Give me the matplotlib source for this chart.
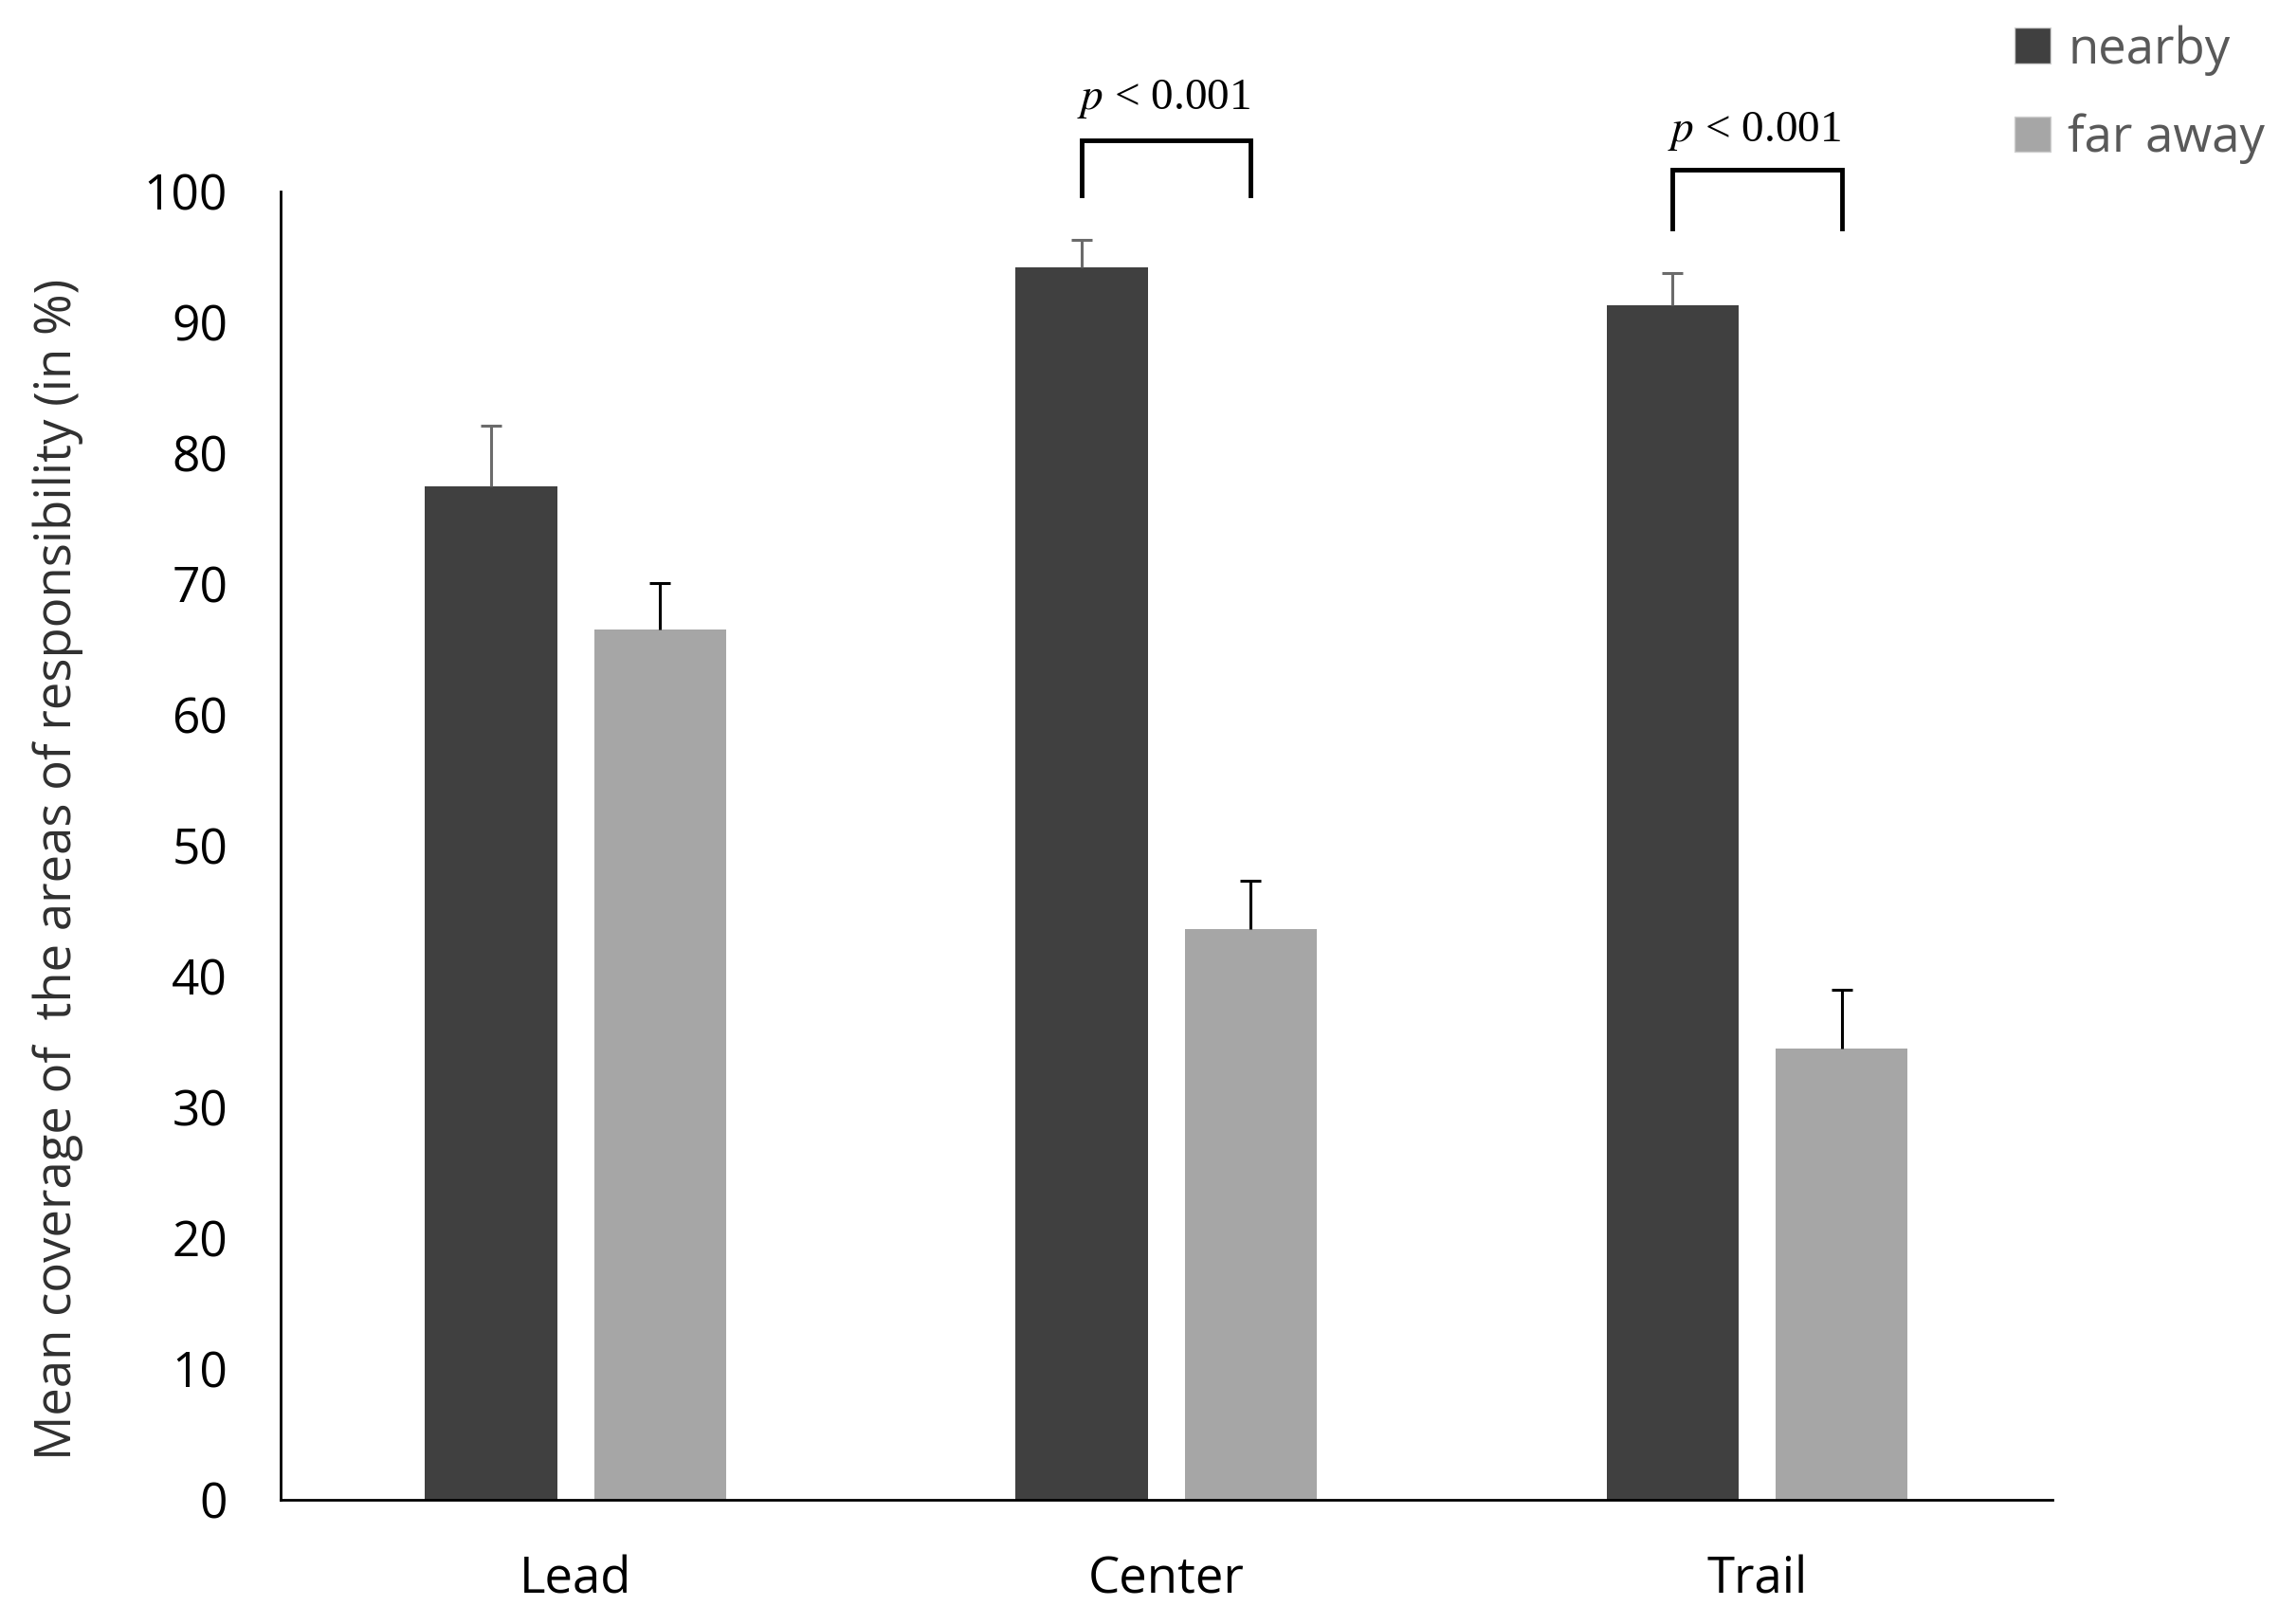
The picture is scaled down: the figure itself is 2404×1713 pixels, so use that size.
import matplotlib.pyplot as plt
import numpy as np
from matplotlib.patches import Patch

plt.rcParams['font.family'] = ['Open Sans', 'DejaVu Sans']
plt.rcParams['mathtext.fontset'] = 'stix'

groups = ['Lead', 'Center', 'Trail']
series = ['nearby', 'far away']
nearby = [77.5, 94.2, 91.3]
nearby_err = [4.6, 2.1, 2.5]
far = [66.5, 43.6, 34.5]
far_err = [3.6, 3.7, 4.5]
colors = ['#404040', '#a6a6a6']
err_colors = ['#6b6b6b', '#000000']

# significance brackets: group index, bracket top, leg bottom, text y
sig_groups = [1, 2]
sig_top = [103.9, 101.7]
sig_bottom = [99.7, 97.2]
sig_text_y = [107.1, 104.6]
sig_label = r'$p$ < 0.001'

fig = plt.figure(figsize=(24.04, 17.13), dpi=100)
ax = fig.add_axes([0.123, 0.0765, 0.7776, 0.8055])

x = np.arange(len(groups))
w = 0.224
off = 0.143
for i, (vals, errs) in enumerate([(nearby, nearby_err), (far, far_err)]):
    pos = x - off if i == 0 else x + off
    ax.bar(pos, vals, w, color=colors[i], label=series[i], zorder=2)
    eb = ax.errorbar(pos, vals, yerr=[np.zeros(len(errs)), errs], fmt='none',
                     ecolor=err_colors[i], elinewidth=2.2, capsize=8, capthick=2.2, zorder=3)
    # only the upper cap
    eb[1][0].set_visible(False)

for g, top, bot, ty in zip(sig_groups, sig_top, sig_bottom, sig_text_y):
    x0, x1 = g - off, g + off
    ax.plot([x0, x0, x1, x1], [bot, top, top, bot], color='black', lw=3.5,
            clip_on=False, solid_joinstyle='miter')
    ax.text(g - 0.005, ty, sig_label, ha='center', va='center', fontsize=34,
            family=['Liberation Serif'], clip_on=False)

ax.set_xlim(-0.5, 2.5)
ax.set_ylim(0, 100)
ax.set_yticks(np.arange(0, 101, 10))
ax.set_xticks(x)
ax.set_xticklabels(groups)
ax.tick_params(axis='both', length=0, labelsize=37)
ax.tick_params(axis='y', pad=40)
ax.tick_params(axis='x', labelsize=38, pad=42)
for s in ['top', 'right']:
    ax.spines[s].set_visible(False)
ax.spines['left'].set_linewidth(2)
ax.spines['bottom'].set_linewidth(2)

fig.text(0.0255, 0.465, 'Mean coverage of  the areas of responsibility (in %)',
         rotation=90, ha='center', va='center', fontsize=38, color='#303030')

handles = [Patch(facecolor=c, edgecolor='#d0d0d0', linewidth=1) for c in colors]
leg = fig.legend(handles, series, loc='upper left', bbox_to_anchor=(0.875, 0.997),
                 frameon=False, fontsize=38, handlelength=0.72, handleheight=0.72,
                 handletextpad=0.35, labelspacing=0.75, borderaxespad=0)
for t in leg.get_texts():
    t.set_color('#595959')

fig.savefig('out.png', dpi=100)
